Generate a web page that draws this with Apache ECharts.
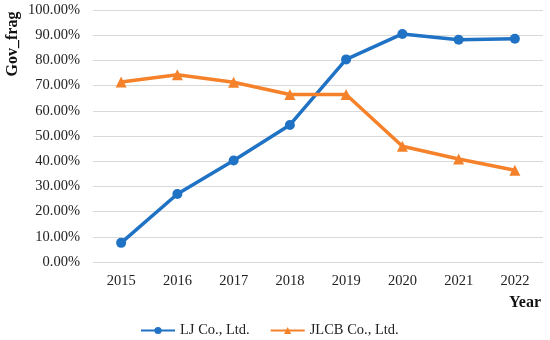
<!DOCTYPE html>
<html><head><meta charset="utf-8">
<script src="https://cdn.jsdelivr.net/npm/echarts@6/dist/echarts.min.js"></script>
<style>html,body{margin:0;padding:0;background:#fff}#c{width:550px;height:340px}</style>
</head><body><div id="c"></div>
<script>
var categories = ['2015','2016','2017','2018','2019','2020','2021','2022'];
var ljValues = [7.6, 27.0, 40.3, 54.4, 80.4, 90.5, 88.2, 88.6];
var jlcbValues = [71.4, 74.3, 71.3, 66.5, 66.5, 45.9, 40.9, 36.4];
var seriesNames = ['LJ Co., Ltd.', 'JLCB Co., Ltd.'];
var yAxisName = 'Gov_frag';
var xAxisName = 'Year';

var font = 'Liberation Serif, Times New Roman, serif';
var chart = echarts.init(document.getElementById('c'));
chart.setOption({
  animation: false,
  grid: {left: 93, right: 7, top: 10, bottom: 78},
  legend: {
    top: 318, left: 135, itemWidth: 34, itemHeight: 9, itemGap: 20,
    textStyle: {fontFamily: font, fontSize: 14.5, color: '#222'},
    data: seriesNames
  },
  xAxis: {
    type: 'category', data: categories, boundaryGap: true,
    axisLine: {show: false}, axisTick: {show: false},
    axisLabel: {fontFamily: font, fontSize: 14.5, color: '#222', margin: 12},
    name: xAxisName, nameLocation: 'end', nameGap: 0,
    nameTextStyle: {fontFamily: font, fontSize: 16, fontWeight: 'bold', color: '#111',
      align: 'right', verticalAlign: 'top', padding: [33, 2, 0, 0]}
  },
  yAxis: {
    type: 'value', min: 0, max: 100, interval: 10,
    axisLine: {show: false}, axisTick: {show: false},
    splitLine: {lineStyle: {color: '#d9d9d9', width: 1}},
    axisLabel: {fontFamily: font, fontSize: 14.5, color: '#222', margin: 13,
      formatter: function (v) { return v.toFixed(2) + '%'; }}
  },
  graphic: [{
    type: 'text', x: 13, y: 44, rotation: Math.PI / 2,
    style: {text: yAxisName, fontFamily: font, fontSize: 16, fontWeight: 'bold',
      fill: '#111', align: 'center', verticalAlign: 'middle'}
  }],
  series: [{
    name: seriesNames[0], type: 'line', data: ljValues,
    symbol: 'circle', symbolSize: 10,
    lineStyle: {color: '#1f72c4', width: 3.5}, itemStyle: {color: '#1f72c4'}
  }, {
    name: seriesNames[1], type: 'line', data: jlcbValues,
    symbol: 'triangle', symbolSize: 11,
    lineStyle: {color: '#f5822a', width: 3.5}, itemStyle: {color: '#f5822a'}
  }]
});
</script></body></html>
